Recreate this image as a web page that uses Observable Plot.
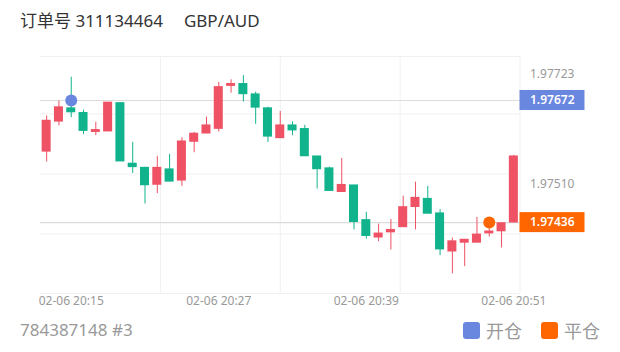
<!DOCTYPE html>
<html>
<head>
<meta charset="utf-8">
<script src="https://cdn.jsdelivr.net/npm/d3@7"></script>
<script src="https://cdn.jsdelivr.net/npm/@observablehq/plot@0.6"></script>
<style>
  html, body { margin: 0; padding: 0; background: #fff; }
  body { width: 620px; height: 352px; overflow: hidden; font-family: "Noto Sans", "Noto Sans CJK SC", sans-serif; }
  #head { height: 42px; line-height: 42px; padding-left: 20px; font-size: 17px; color: #333; white-space: pre; }
  #foot { position: relative; height: 39px; font-size: 17px; color: #999; }
  #foot .id { position: absolute; left: 20px; top: 0; line-height: 34px; }
  #foot .leg { position: absolute; right: 20px; top: 0; height: 34px; display: flex; align-items: center; font-size: 18px; }
  #foot .sw { width: 17px; height: 17px; border-radius: 3px; margin-right: 6px; }
  #foot .lab { margin-right: 19px; }
  #foot .lab:last-child { margin-right: 0; }
  #chart svg { display: block; }
</style>
</head>
<body>
<div id="head"></div>
<div id="chart"></div>
<div id="foot"></div>
<script>
// ---- data ----
const orderNo = "311134464";
const symbol = "GBP/AUD";
const footerId = "784387148 #3";
const dayPrefix = "2024-02-06T";
const times = ["20:13","20:14","20:15","20:16","20:17","20:18","20:19","20:20","20:21","20:22",
               "20:23","20:24","20:25","20:26","20:27","20:28","20:29","20:30","20:31","20:32",
               "20:33","20:34","20:35","20:36","20:37","20:38","20:39","20:40","20:41","20:42",
               "20:43","20:44","20:45","20:46","20:47","20:48","20:49","20:50","20:51"];
const open  = [1.97573,1.97631,1.97657,1.97648,1.97611,1.97612,1.97667,1.97550,1.97542,1.97509,
               1.97539,1.97517,1.97592,1.97608,1.97617,1.97700,1.97704,1.97684,1.97657,1.97599,
               1.97624,1.97617,1.97564,1.97541,1.97495,1.97508,1.97441,1.97407,1.97417,1.97427,
               1.97466,1.97482,1.97454,1.97380,1.97397,1.97397,1.97415,1.97419,1.97436];
const high  = [1.97642,1.97671,1.97717,1.97653,1.97630,1.97668,1.97667,1.97591,1.97543,1.97564,
               1.97568,1.97600,1.97610,1.97640,1.97707,1.97712,1.97720,1.97688,1.97659,1.97651,
               1.97631,1.97624,1.97564,1.97543,1.97560,1.97508,1.97456,1.97433,1.97442,1.97487,
               1.97514,1.97506,1.97461,1.97406,1.97403,1.97446,1.97430,1.97435,1.97566];
const low   = [1.97553,1.97623,1.97639,1.97606,1.97604,1.97612,1.97554,1.97531,1.97472,1.97492,
               1.97515,1.97506,1.97571,1.97608,1.97611,1.97686,1.97669,1.97626,1.97591,1.97599,
               1.97604,1.97564,1.97501,1.97497,1.97495,1.97422,1.97404,1.97399,1.97383,1.97427,
               1.97422,1.97453,1.97372,1.97337,1.97351,1.97397,1.97408,1.97387,1.97436];
const close = [1.97633,1.97659,1.97649,1.97613,1.97615,1.97668,1.97554,1.97543,1.97508,1.97542,
               1.97515,1.97593,1.97608,1.97624,1.97698,1.97704,1.97684,1.97658,1.97602,1.97624,
               1.97614,1.97564,1.97539,1.97497,1.97509,1.97437,1.97410,1.97415,1.97422,1.97466,
               1.97484,1.97453,1.97384,1.97400,1.97403,1.97413,1.97419,1.97435,1.97564];
const openTrade  = { time: "20:15", price: 1.97672 };
const closeTrade = { time: "20:49", price: 1.97436 };
const yTickValues = [1.97723, 1.97510];
const yGridLevels = [1.97757, 1.97646, 1.97530, 1.97414, 1.97299];
const xTickTimes = ["20:15", "20:27", "20:39", "20:51"];
const legendLabels = ["开仓", "平仓"];

// ---- styles ----
const UP = "#ee5264", DOWN = "#10b38c", BLUE = "#6a87e0", ORANGE = "#ff6600";

const toDate = t => new Date(dayPrefix + t + ":00Z");
const candles = times.map((t, i) => ({date: toDate(t), open: open[i], high: high[i], low: low[i], close: close[i]}));
const half = 22000; // half body width in ms
const xDomain = [new Date(+toDate(times[0]) - 30000), new Date(+toDate(times[times.length - 1]) + 30000)];
const xGrid = d3.range(1, 5).map(i => new Date(+xDomain[0] + i * (xDomain[1] - xDomain[0]) / 4));
const col = d => d.close >= d.open ? UP : DOWN;

const chart = Plot.plot({
  width: 620,
  height: 271,
  marginTop: 14,
  marginBottom: 20,
  marginLeft: 40,
  marginRight: 100.5,
  style: { fontFamily: "'Noto Sans', sans-serif", fontSize: "12px", color: "#999", background: "#fff" },
  x: { type: "utc", domain: xDomain, ticks: xTickTimes.map(toDate), tickFormat: d3.utcFormat("%m-%d %H:%M"), tickSize: 0, tickPadding: 3, label: null },
  y: { domain: [yGridLevels[yGridLevels.length - 1], yGridLevels[0]], axis: "right", ticks: yTickValues, tickFormat: d => d.toFixed(5), tickSize: 0, tickPadding: 10, label: null },
  marks: [
    Plot.ruleX(xGrid, {stroke: "#f0f0f0", strokeWidth: 1}),
    Plot.ruleY(yGridLevels, {stroke: "#f0f0f0", strokeWidth: 1}),
    Plot.ruleY([openTrade.price, closeTrade.price], {stroke: "#dcdcdc", strokeWidth: 1.2}),
    Plot.ruleX(candles, {x: "date", y1: "low", y2: "high", stroke: col, strokeWidth: 1}),
    Plot.rect(candles, {x1: d => new Date(+d.date - half), x2: d => new Date(+d.date + half), y1: "open", y2: "close", fill: col, insetTop: -0.4, insetBottom: -0.4}),
    Plot.dot([openTrade], {x: d => toDate(d.time), y: "price", r: 6, fill: BLUE}),
    Plot.dot([closeTrade], {x: d => toDate(d.time), y: "price", r: 6, fill: ORANGE})
  ]
});
document.getElementById("chart").appendChild(chart);

// price tags on the right, placed through Plot's scales
const ys = chart.scale("y"), xs = chart.scale("x");
const svg = d3.select(chart);
const xRight = xs.range[1];
[[openTrade.price, BLUE], [closeTrade.price, ORANGE]].forEach(([p, c]) => {
  const y = ys.apply(p);
  const g = svg.append("g");
  g.append("rect").attr("x", xRight).attr("y", y - 10).attr("width", 65).attr("height", 20).attr("fill", c);
  g.append("text").attr("x", xRight + 10.5).attr("y", y).attr("dy", "0.35em")
    .attr("text-anchor", "start")
    .attr("fill", "#fff").attr("font-size", "12px").attr("font-weight", 600)
    .attr("font-family", "'Noto Sans', sans-serif").text(p.toFixed(5));
});

// header and footer
document.getElementById("head").innerHTML = `订单号 ${orderNo}<span style="margin-left:21px">${symbol}</span>`;
const foot = document.getElementById("foot");
foot.innerHTML = `<div class="id">${footerId}</div>` +
  `<div class="leg">` +
  [BLUE, ORANGE].map((c, i) => `<div class="sw" style="background:${c}"></div><div class="lab">${legendLabels[i]}</div>`).join("") +
  `</div>`;
</script>
</body>
</html>
